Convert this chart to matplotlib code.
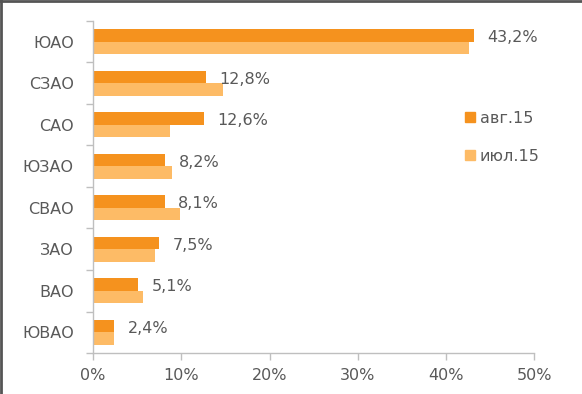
import numpy as np
import matplotlib.pyplot as plt
from matplotlib.lines import Line2D

# districts, top to bottom
districts = ["ЮАО", "СЗАО", "САО", "ЮЗАО", "СВАО", "ЗАО", "ВАО", "ЮВАО"]
aug15 = [43.2, 12.8, 12.6, 8.2, 8.1, 7.5, 5.1, 2.4]
jul15 = [42.6, 14.7, 8.7, 8.9, 9.9, 7.0, 5.7, 2.4]
aug_labels = ["43,2%", "12,8%", "12,6%", "8,2%", "8,1%", "7,5%", "5,1%", "2,4%"]
x_ticks = [0, 10, 20, 30, 40, 50]

DARK = "#F5921E"
LIGHT = "#FDBB66"
TEXT = "#595959"
AXIS = "#BFBFBF"
FS = 11.5

plt.rcParams['font.family'] = ['DejaVu Sans']
plt.rcParams['font.size'] = FS

fig = plt.figure(figsize=(5.82, 3.94), dpi=100)
ax = fig.add_axes([0.16, 0.104, 0.758, 0.843])

y = np.arange(len(districts))
h = 0.3
ax.barh(y - h / 2, aug15, height=h, color=DARK, label="авг.15")
ax.barh(y + h / 2, jul15, height=h, color=LIGHT, label="июл.15")

for yi, v, txt in zip(y, aug15, aug_labels):
    ax.annotate(txt, (v, yi - h / 2), xytext=(9.5, -1.5), textcoords="offset points",
                ha="left", va="center", color=TEXT, fontsize=FS)

ax.set_xlim(0, 50)
ax.set_ylim(len(districts) - 0.5, -0.5)
ax.set_xticks(x_ticks)
ax.set_xticklabels([f"{t}%" for t in x_ticks])
ax.set_yticks(y)
ax.set_yticklabels(districts)
ax.set_yticks(np.arange(-0.5, len(districts)), minor=True)

ax.tick_params(axis="y", which="major", length=0, pad=14, labelcolor=TEXT, labelsize=FS)
ax.tick_params(axis="y", which="minor", length=5, color=AXIS, width=1)
ax.tick_params(axis="x", length=5, color=AXIS, width=1, pad=6, labelcolor=TEXT, labelsize=FS)

for s in ["top", "right"]:
    ax.spines[s].set_visible(False)
for s in ["left", "bottom"]:
    ax.spines[s].set_color(AXIS)
    ax.spines[s].set_linewidth(1)

handles = [Line2D([], [], marker="s", linestyle="none", markersize=7, color=DARK),
           Line2D([], [], marker="s", linestyle="none", markersize=7, color=LIGHT)]
leg = fig.legend(handles, ["авг.15", "июл.15"], loc="upper left",
                 bbox_to_anchor=(0.775, 0.755), frameon=False, handlelength=0.6,
                 handletextpad=0.3, labelspacing=1.45, fontsize=FS)
for t in leg.get_texts():
    t.set_color(TEXT)

# frame lines on top and left edge
fig.add_artist(Line2D([0, 1], [0.997, 0.997], transform=fig.transFigure, color="#555555", lw=2))
fig.add_artist(Line2D([0.002, 0.002], [0, 1], transform=fig.transFigure, color="#555555", lw=2))

fig.savefig("out.png", dpi=100)
